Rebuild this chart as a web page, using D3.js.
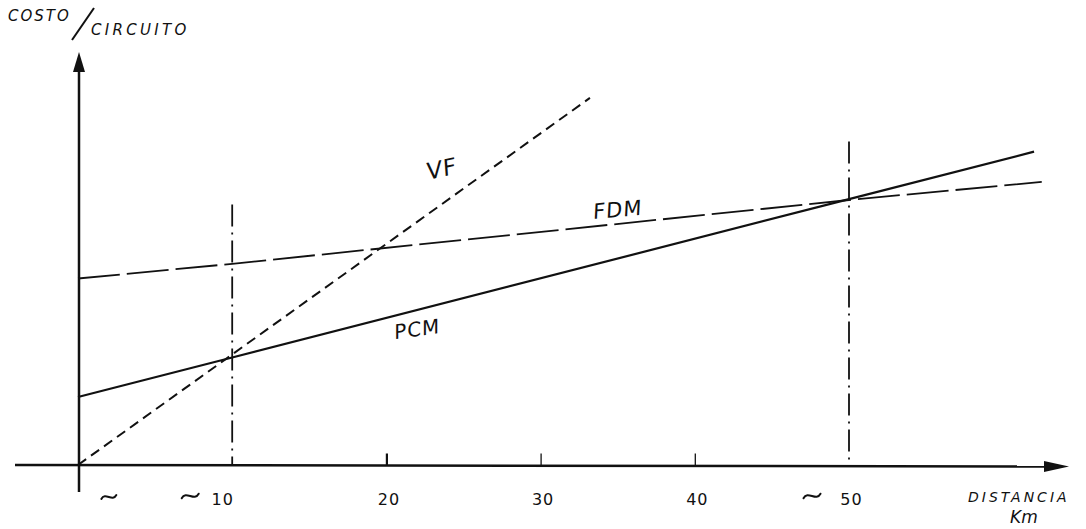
<!DOCTYPE html>
<html>
<head>
<meta charset="utf-8">
<script src="https://cdn.jsdelivr.net/npm/d3@7"></script>
<style>
  html, body { margin: 0; padding: 0; background: #fff; }
  svg { display: block; }
  text { font-family: "DejaVu Sans", sans-serif; fill: #111; }
</style>
</head>
<body>
<svg id="chart" width="1086" height="529"></svg>
<script>
// Distance (km) and cost-per-circuit (relative units) for each transmission system
const vfKm = [0, 33.2];
const vfCost = [0, 87.4];

const fdmKm = [0, 10, 50, 62.5];
const fdmCost = [44.4, 47.9, 63.1, 67.4];

const pcmKm = [0, 10, 50, 62];
const pcmCost = [16.2, 25.6, 63.3, 74.6];

// Crossover distances marked with dash-dot guides, and the guide heights
const crossKm = [10, 50];
const crossTop = [62, 77];

// Axis ticks
const tickKm = [10, 20, 30, 40, 50];
const tickText = ["10", "20", "30", "40", "50"];
const approxKm = [10, 50];

const svg = d3.select("#chart");

const x = d3.scaleLinear().domain([0, 50]).range([78, 849]);
const y = d3.scaleLinear().domain([0, 100]).range([465, 45]);

const ink = "#111";

// hand-drawn style tilde centred at (cx, cy)
function tilde(cx, cy, w) {
  const h = w * 0.22;
  svg.append("path")
    .attr("d", `M${cx - w / 2},${cy + h * 0.6} C${cx - w / 4},${cy - h * 1.6} ${cx + w / 4},${cy + h * 1.6} ${cx + w / 2},${cy - h * 0.6}`)
    .attr("fill", "none").attr("stroke", ink).attr("stroke-width", 2)
    .attr("stroke-linecap", "round");
}

// ---- Axes ----
// horizontal axis with arrow
svg.append("line")
  .attr("x1", 15).attr("y1", y(0)).attr("x2", 1050).attr("y2", y(0) + 1.5)
  .attr("stroke", ink).attr("stroke-width", 2.5);
svg.append("path")
  .attr("d", `M1044,${y(0) - 4} L1069,${y(0) + 1.5} L1044,${y(0) + 7} Z`)
  .attr("fill", ink);

// vertical axis with arrow
svg.append("line")
  .attr("x1", x(0) + 1).attr("y1", 492).attr("x2", x(0) + 1).attr("y2", 66)
  .attr("stroke", ink).attr("stroke-width", 2.5);
svg.append("path")
  .attr("d", `M${x(0) - 5},${72} L${x(0) + 1},${52} L${x(0) + 7},${72} Z`)
  .attr("fill", ink);

// tick marks and labels via d3 axis
const axis = d3.axisBottom(x)
  .tickValues(tickKm)
  .tickSize(-12)
  .tickPadding(28)
  .tickFormat((d, i) => tickText[i]);

const gAxis = svg.append("g")
  .attr("transform", `translate(0,${y(0) + 0.5})`)
  .call(axis);
gAxis.select(".domain").remove();
gAxis.selectAll(".tick line")
  .attr("stroke", ink)
  .attr("stroke-width", d => d === 20 ? 2.2 : 1.3)
  .attr("display", d => approxKm.includes(d) ? "none" : null);
gAxis.selectAll(".tick text")
  .attr("font-size", 16)
  .attr("fill", ink)
  .attr("font-family", "DejaVu Sans, sans-serif")
  .attr("letter-spacing", 1)
  .attr("dx", d => d === 10 ? -10 : 2);

// approximate markers "~"
tilde(x(2), 497, 15);
approxKm.forEach(k => {
  tilde(x(k) - (k === 10 ? 42 : 37), 496, 17);
});

// axis titles
svg.append("text").attr("x", 968).attr("y", 502)
  .attr("font-size", 14).attr("font-style", "italic").attr("letter-spacing", 3)
  .text("DISTANCIA");
svg.append("text").attr("x", 1010).attr("y", 523)
  .attr("font-size", 17).attr("font-style", "italic")
  .text("Km");

svg.append("text").attr("x", 8).attr("y", 21)
  .attr("font-size", 15).attr("font-style", "italic").attr("letter-spacing", 2)
  .text("COSTO");
svg.append("line")
  .attr("x1", 72).attr("y1", 40).attr("x2", 94).attr("y2", 8)
  .attr("stroke", ink).attr("stroke-width", 2);
svg.append("text").attr("x", 91).attr("y", 35)
  .attr("font-size", 15).attr("font-style", "italic").attr("letter-spacing", 3.3)
  .text("CIRCUITO");

// ---- Crossover guides (dash-dot) ----
crossKm.forEach((k, i) => {
  svg.append("line")
    .attr("x1", x(k)).attr("x2", x(k))
    .attr("y1", y(crossTop[i])).attr("y2", y(0))
    .attr("stroke", ink).attr("stroke-width", 1.8)
    .attr("stroke-dasharray", "22,6,2,6");
});

// ---- Cost lines ----
const line = d3.line().x(d => x(d[0])).y(d => y(d[1]));

svg.append("path")
  .datum(d3.zip(vfKm, vfCost))
  .attr("d", line)
  .attr("fill", "none").attr("stroke", ink).attr("stroke-width", 2)
  .attr("stroke-dasharray", "10,6");

svg.append("path")
  .datum(d3.zip(fdmKm, fdmCost))
  .attr("d", line)
  .attr("fill", "none").attr("stroke", ink).attr("stroke-width", 1.8)
  .attr("stroke-dasharray", "42,7");

svg.append("path")
  .datum(d3.zip(pcmKm, pcmCost))
  .attr("d", line)
  .attr("fill", "none").attr("stroke", ink).attr("stroke-width", 2.2);

// ---- Line labels ----
const labels = [
  { text: "VF", km: 23.6, cost: 70.2, rot: -12, size: 23 },
  { text: "FDM", km: 35.0, cost: 60.5, rot: -5, size: 21 },
  { text: "PCM", km: 22.0, cost: 32.0, rot: -8, size: 20 }
];
labels.forEach(l => {
  svg.append("text")
    .attr("transform", `translate(${x(l.km)},${y(l.cost)}) rotate(${l.rot}) skewX(-8)`)
    .attr("text-anchor", "middle").attr("dominant-baseline", "middle")
    .attr("font-size", l.size).attr("letter-spacing", 1)
    .text(l.text);
});
</script>
</body>
</html>
